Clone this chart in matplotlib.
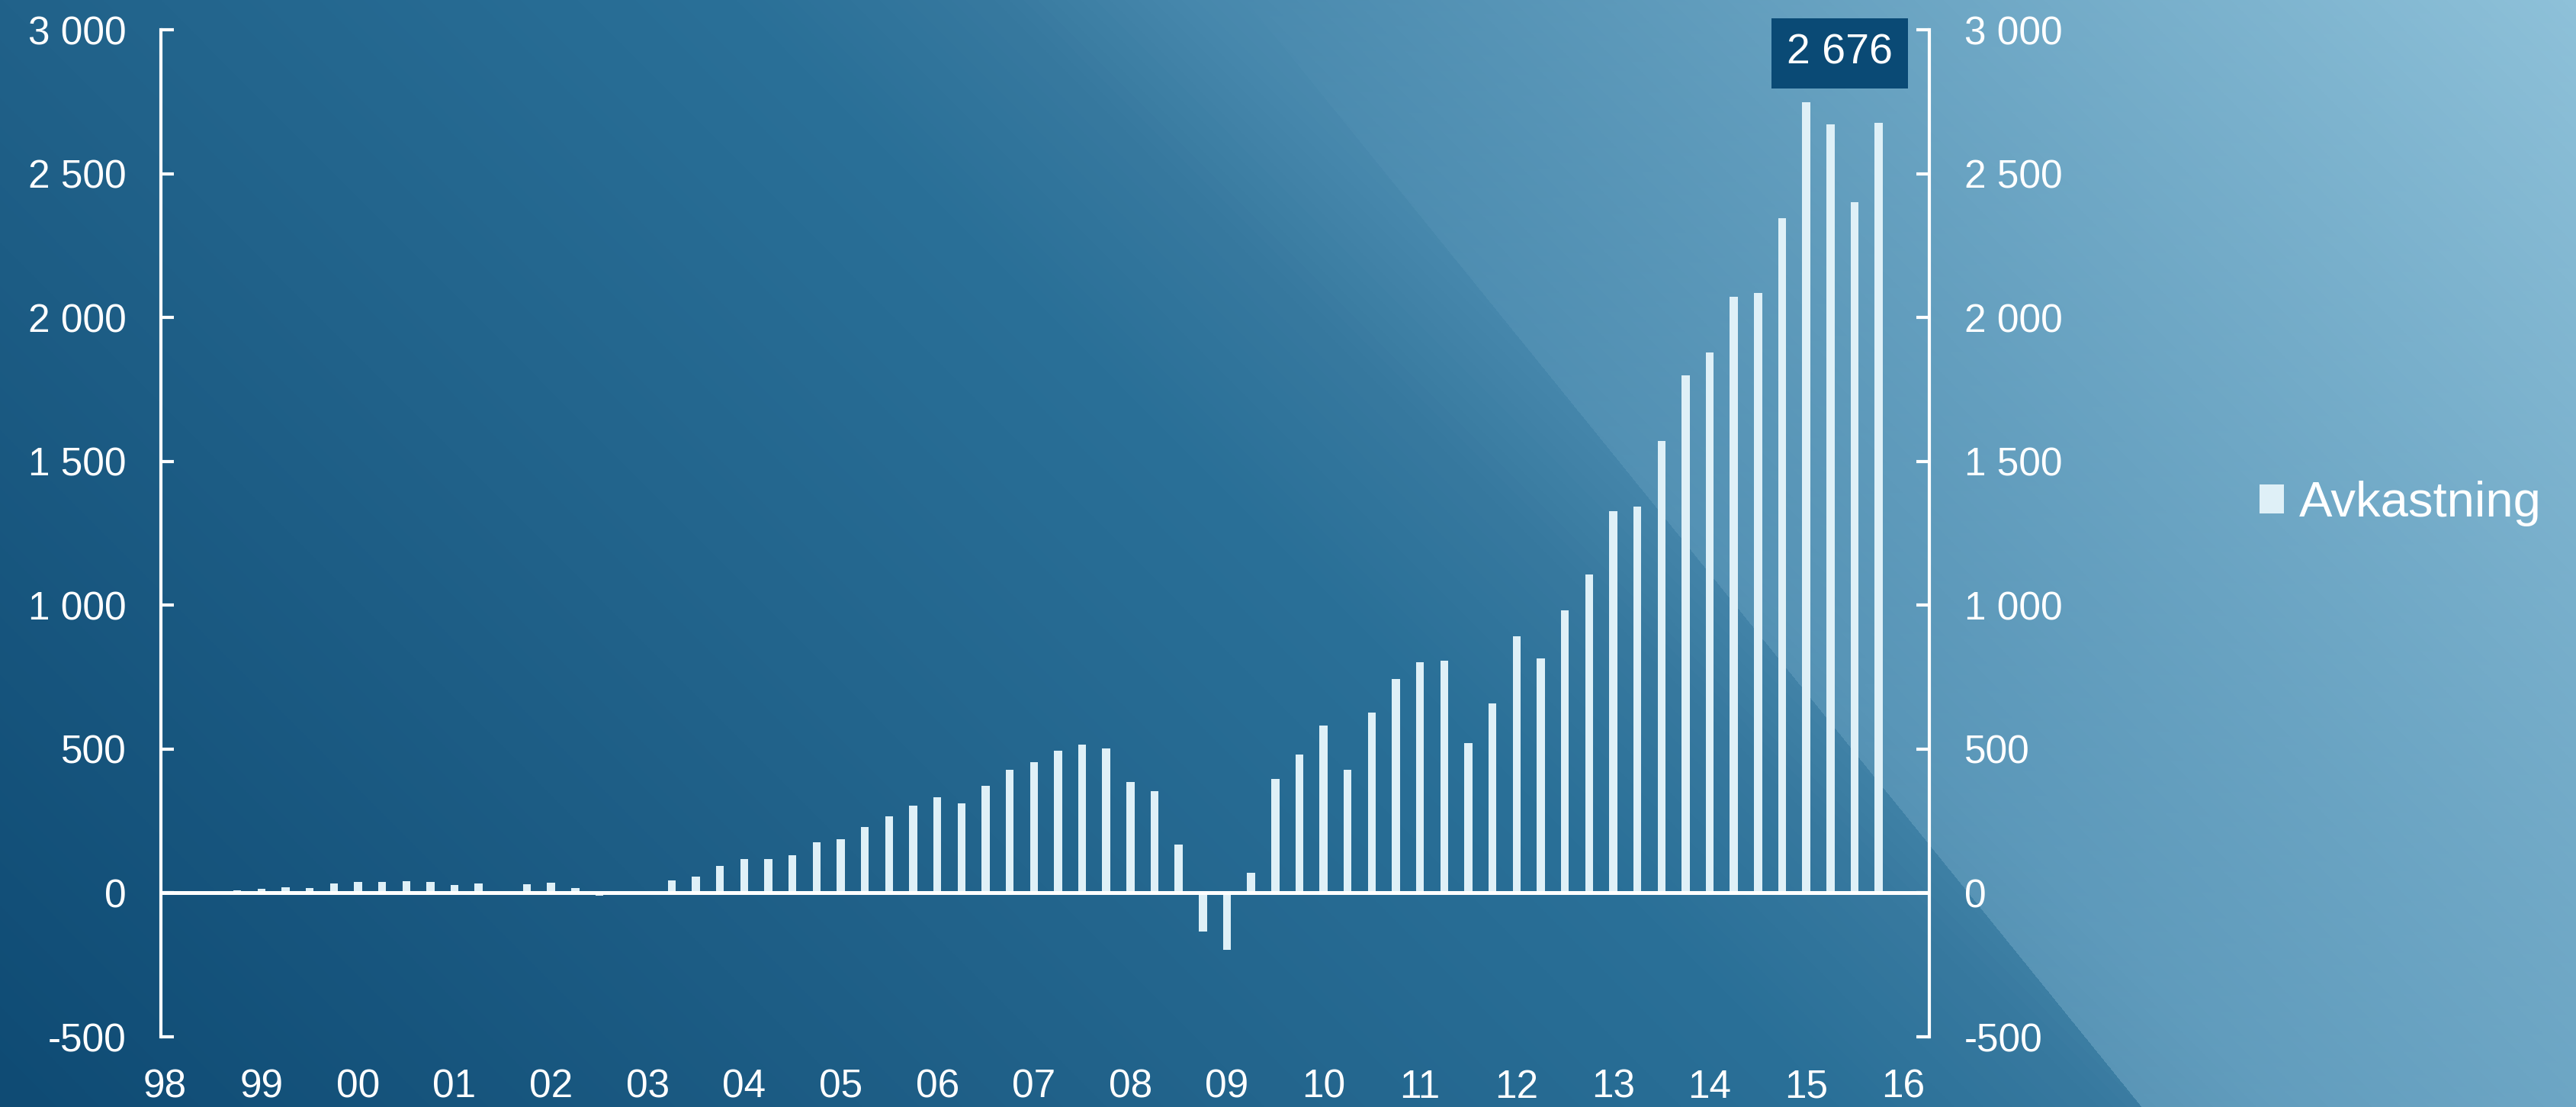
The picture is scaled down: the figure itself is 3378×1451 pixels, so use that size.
import numpy as np
import matplotlib
matplotlib.use('Agg')
import matplotlib.pyplot as plt
from matplotlib.ticker import FuncFormatter
from matplotlib.colors import LinearSegmentedColormap

plt.rcParams['font.family'] = ['Liberation Sans', 'DejaVu Sans']

#### Data: quarterly returns, 1998Q1 .. 2015Q4 ####
years = ['98', '99', '00', '01', '02', '03', '04', '05', '06', '07',
         '08', '09', '10', '11', '12', '13', '14', '15', '16']
values = [0, 0, 0, 10, 15, 19, 16, 33, 39, 39, 40, 39, 28, 33, 0, 31,
          35, 16, -10, 0, -3, 43, 57, 93, 119, 117, 131, 176, 186, 229, 267, 303,
          333, 312, 373, 427, 454, 495, 516, 503, 386, 353, 167, -133, -199, 70, 396, 480,
          583, 428, 627, 744, 802, 806, 520, 658, 892, 815, 982, 1106, 1326, 1343, 1571, 1800,
          1878, 2071, 2084, 2346, 2749, 2672, 2400, 2676]
series_name = 'Avkastning'
yticks = [-500, 0, 500, 1000, 1500, 2000, 2500, 3000]

W, H = 3378, 1451
fig = plt.figure(figsize=(W / 100, H / 100), dpi=100)

## background gradient + lighter diagonal panel on the right (fades out towards the top)
bg_ax = fig.add_axes([0, 0, 1, 1], zorder=-5)
yy, xx = np.mgrid[0:H, 0:W].astype(float)
t = 0.7 * xx / W + 0.3 * (1 - yy / H)
stops = [(0.0, (15, 75, 116)), (0.3, (33, 98, 138)), (0.5, (42, 112, 152)),
         (0.57, (55, 121, 159)), (0.62, (70, 135, 172)), (1.0, (142, 193, 217))]
cmap = LinearSegmentedColormap.from_list('bg', [(s, np.array(c) / 255) for s, c in stops])
img = cmap(t)[:, :, :3]
panel = xx > (1633 + 0.81 * yy)
alpha = (0.3 * (yy / H) ** 0.9)[:, :, None] * panel[:, :, None]
tint = np.array([165, 210, 232]) / 255
img = img * (1 - alpha) + tint * alpha
bg_ax.imshow(img, aspect='auto', extent=[0, 1, 0, 1], interpolation='bilinear')
bg_ax.axis('off')

## main chart
ax = fig.add_axes([0.0625, 0.0634, 0.6865, 0.9097])
ax.set_facecolor('none')
x = np.arange(len(values))
bars = ax.bar(x, values, width=0.33, color='#dff0f7', label=series_name, zorder=2)
ax.axhline(0, color='white', lw=3.6, zorder=3)

ax.set_ylim(-500, 3000)
ax.set_xlim(-0.16, 73.1)

ax.spines['top'].set_visible(False)
ax.spines['bottom'].set_visible(False)
for s in ['left', 'right']:
    ax.spines[s].set_color('white')
    ax.spines[s].set_linewidth(3)

ax.set_yticks(yticks)
ax.yaxis.set_major_formatter(FuncFormatter(lambda v, p: '{:,.0f}'.format(v).replace(',', ' ')))
ax.tick_params(axis='y', left=True, right=True, labelleft=True, labelright=True,
               direction='in', length=12, width=3, colors='white', labelsize=37, pad=33)

ax.set_xticks(np.arange(len(years)) * 4)
ax.set_xticklabels(years)
ax.tick_params(axis='x', length=0, colors='white', labelsize=37, pad=30)

## label on the last bar
ax.annotate('{:,}'.format(values[-1]).replace(',', ' '), xy=(x[-1], values[-1]),
            xytext=(-37, 66), textcoords='offset points', ha='center', va='center',
            color='white', fontsize=40, annotation_clip=False,
            bbox=dict(boxstyle='square,pad=0.36', fc='#0a4a75', ec='none'))

## legend
fig.legend(handles=[bars], labels=[series_name], loc='center left',
           bbox_to_anchor=(0.877, 0.545), frameon=False, fontsize=47,
           borderpad=0, borderaxespad=0,
           labelcolor='white', handlelength=0.5, handleheight=0.5, handletextpad=0.3)

fig.savefig('out.png', dpi=100)
